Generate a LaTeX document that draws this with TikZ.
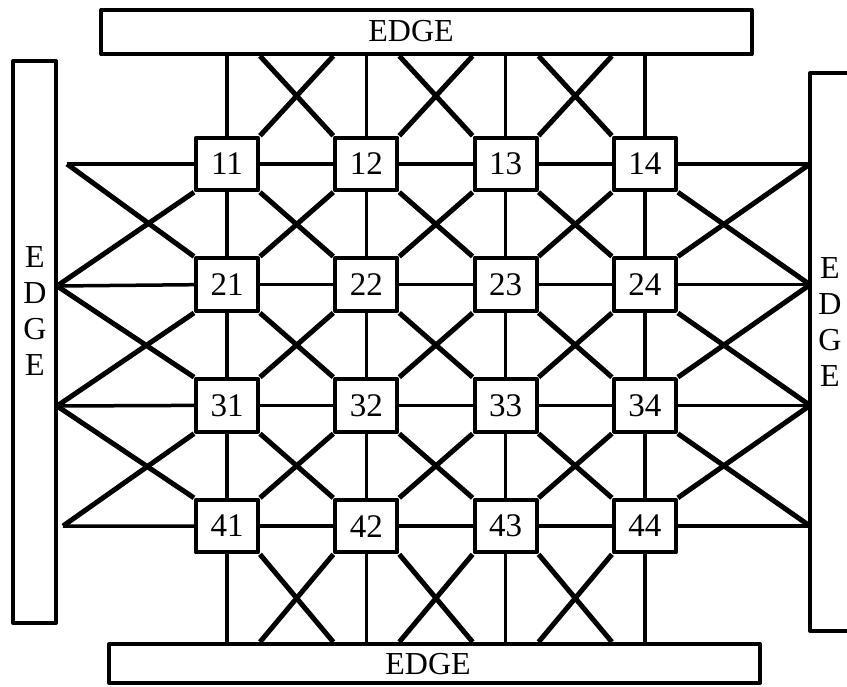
\documentclass[tikz,border=0pt]{standalone}
\usepackage{fontspec}
\setmainfont{Liberation Serif}

\begin{document}
\begin{tikzpicture}[x=1pt,y=-1pt,line join=round,
        cell/.style={rectangle, draw, line width=4pt, minimum width=62pt, minimum height=52.5pt, inner sep=0pt, font=\fontsize{33}{36}\selectfont},
        side/.style={rectangle, draw, line width=4pt, inner sep=0pt},
        tag/.style={font=\fontsize{32}{36}\selectfont, align=center, inner sep=0pt},
        link/.style={line width=3.5pt}, cross/.style={line width=5pt}]

            \useasboundingbox (0,0) rectangle (847,687);
            \clip (0,0) rectangle (847,687);

            % Edges

            \node [side, minimum width=651pt, minimum height=44pt] (edgeN) at (426.5,32) {};
            \node [side, minimum width=651pt, minimum height=39pt] (edgeS) at (434.5,663.5) {};
            \node [side, minimum width=43pt, minimum height=562pt] (edgeW) at (34.5,342) {};
            \node [side, minimum width=68pt, minimum height=558pt] (edgeE) at (844,352) {};

            \node [tag] (tagN) at (411,31) {EDGE};
            \node [tag] (tagS) at (428,664) {EDGE};
            \node [tag] (tagW) at (35,311) {E\\D\\G\\E};
            \node [tag] (tagE) at (830,322) {E\\D\\G\\E};

            \coordinate (l1) at (67,164);
            \coordinate (l2) at (57,286);
            \coordinate (l3) at (57,406);
            \coordinate (l4) at (63,526);
            \foreach \r [evaluate = \r as \ry using {164+120.7*(\r-1)}] in {1,2,3,4}
                \coordinate (r\r) at (810,\ry);

            % Cells

            \foreach \r [evaluate = \r as \ry using {164+120.7*(\r-1)}] in {1,2,3,4} {
                \foreach \c [evaluate = \c as \cx using {227+139.3*(\c-1)}] in {1,2,3,4} {
                    \node [cell] (n\r\c) at (\cx,\ry) {\r\c};
                }
            }

            % Rows and columns

            \foreach \r in {1,2,3,4} {
                \foreach \c [evaluate = \c as \cn using {int(\c+1)}] in {1,2,3}
                    \draw [link] (n\r\c.east) -- (n\r\cn.west);
                \draw [link] (l\r) -- (n\r1.west);
                \draw [link] (n\r4.east) -- (r\r);
            }
            \foreach \c in {1,2,3,4} {
                \draw [link] (n1\c.north |- edgeN.south) -- (n1\c.north);
                \foreach \r [evaluate = \r as \rn using {int(\r+1)}] in {1,2,3}
                    \draw [link] (n\r\c.south) -- (n\rn\c.north);
                \draw [link] (n4\c.south) -- (n4\c.south |- edgeS.north);
            }

            % Crosses

            \foreach \r [evaluate = \r as \rn using {int(\r+1)}] in {1,2,3} {
                \foreach \c [evaluate = \c as \cn using {int(\c+1)}] in {1,2,3} {
                    \draw [cross] (n\r\c.south east) -- (n\rn\cn.north west);
                    \draw [cross] (n\r\cn.south west) -- (n\rn\c.north east);
                }
                \draw [cross] (l\r) -- (n\rn1.north west);
                \draw [cross] (l\rn) -- (n\r1.south west);
                \draw [cross] (n\r4.south east) -- (r\rn);
                \draw [cross] (n\rn4.north east) -- (r\r);
            }
            \foreach \c [evaluate = \c as \cn using {int(\c+1)}] in {1,2,3} {
                \draw [cross] (n1\c.north east) -- (n1\cn.north west |- edgeN.south);
                \draw [cross] (n1\cn.north west) -- (n1\c.north east |- edgeN.south);
                \draw [cross] (n4\c.south east) -- (n4\cn.south west |- edgeS.north);
                \draw [cross] (n4\cn.south west) -- (n4\c.south east |- edgeS.north);
            }
        \end{tikzpicture}
\end{document}
